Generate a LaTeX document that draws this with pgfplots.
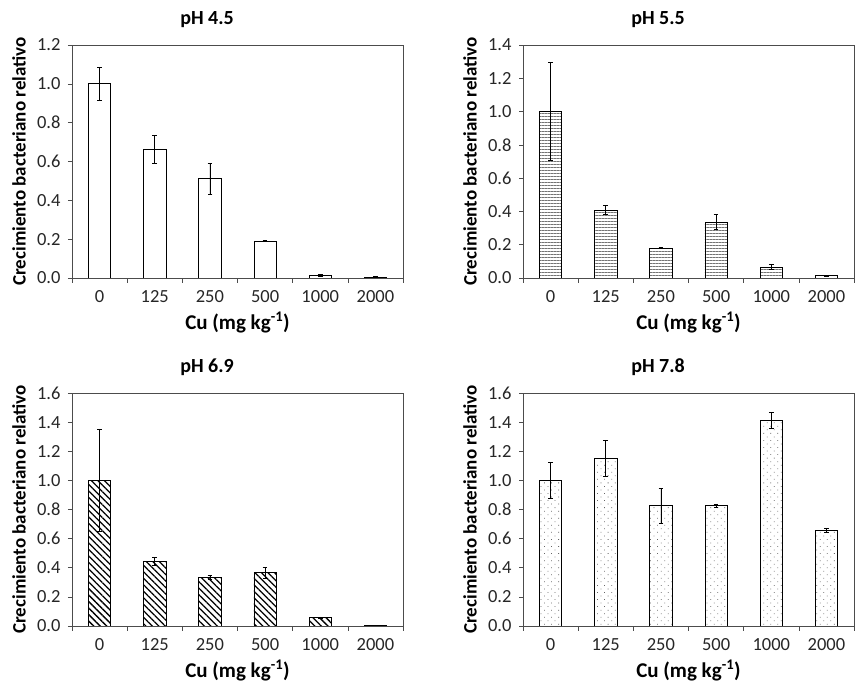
\documentclass[border=0pt]{standalone}
\usepackage{pgfplots}
\pgfplotsset{compat=1.18}
\usepackage{pgfplotstable}
\usetikzlibrary{patterns,patterns.meta}
\usepackage{fontspec}
\setmainfont{Carlito}

\pgfplotstableread{
x y e
0 1.000 0.085
1 0.663 0.070
2 0.511 0.080
3 0.190 0.002
4 0.014 0.003
5 0.005 0.002
}\phA
\pgfplotstableread{
x y e
0 1.000 0.296
1 0.408 0.028
2 0.180 0.002
3 0.336 0.044
4 0.066 0.014
5 0.014 0.003
}\phB
\pgfplotstableread{
x y e
0 1.000 0.353
1 0.442 0.027
2 0.332 0.014
3 0.366 0.037
4 0.057 0.005
5 0.003 0.001
}\phC
\pgfplotstableread{
x y e
0 1.000 0.126
1 1.149 0.124
2 0.826 0.119
3 0.826 0.008
4 1.410 0.055
5 0.657 0.012
}\phD

\pgfplotsset{
  cuplot/.style={
    scale only axis,
    width=331pt, height=233pt,
    anchor=south west,
    xmin=-0.5, xmax=5.5,
    ymin=0,
    xtick={0,...,5},
    xticklabels={0,125,250,500,1000,2000},
    major x tick style={draw=none},
    minor xtick={-0.5,0.5,1.5,2.5,3.5,4.5,5.5},
    minor x tick style={gray!60!black, line width=0.6pt},
    minor tick length=5pt,
    major tick length=4pt,
    y tick style={gray!60!black, line width=0.6pt},
    tick align=outside,
    xtick pos=bottom, ytick pos=left,
    axis line style={gray!60!black, line width=0.7pt},
    /pgf/number format/assume math mode=true,
    /pgf/number format/fixed,
    /pgf/number format/fixed zerofill,
    /pgf/number format/precision=1,
    tick label style={font=\fontsize{18.5}{21}\selectfont, text=black!85},
    xticklabel style={yshift=-5pt},
    yticklabel style={xshift=-4pt},
    xlabel={Cu (mg kg\textsuperscript{-1})},
    ylabel={Crecimiento bacteriano relativo},
    xlabel style={at={(axis description cs:0.5,-0.19)}, anchor=center, font=\fontsize{21}{24}\bfseries\selectfont},
    ylabel style={at={(axis description cs:-0.160,0.5)}, anchor=center, font=\fontsize{19}{22}\bfseries\selectfont},
    title style={at={(axis description cs:0.408,1.085)}, anchor=center, font=\fontsize{20}{23}\bfseries\selectfont},
    ybar, bar width=22.3pt,
    error bars/y dir=both, error bars/y explicit,
    error bars/error bar style={black, line width=0.7pt},
    error bars/error mark options={rotate=90, mark size=2.4pt, line width=0.7pt, black},
  },
  barsty/.style={draw=black, line width=0.8pt},
}

\begin{document}
\begin{tikzpicture}
\path[use as bounding box] (0,0) rectangle (865pt,695pt);

\begin{axis}[cuplot, at={(72pt,417pt)}, ymax=1.2, ytick={0,0.2,...,1.2}, title={pH 4.5}]
\addplot[barsty, fill=white] table[x=x, y=y, y error=e] {\phA};
\end{axis}

\begin{axis}[cuplot, at={(523pt,417pt)}, ymax=1.4, ytick={0,0.2,...,1.4}, title={pH 5.5}]
\addplot[barsty, fill=white, postaction={pattern={Lines[angle=0, distance=3pt, line width=0.45pt]}, pattern color=black!55}] table[x=x, y=y, y error=e] {\phB};
\end{axis}

\begin{axis}[cuplot, at={(72pt,69pt)}, ymax=1.6, ytick={0,0.2,...,1.6}, title={pH 6.9}, title style={at={(axis description cs:0.408,1.083)}}]
\addplot[barsty, fill=white, postaction={pattern={Lines[angle=-45, distance=4.6pt, line width=1.3pt]}, pattern color=black}] table[x=x, y=y, y error=e] {\phC};
\end{axis}

\begin{axis}[cuplot, at={(523pt,69pt)}, ymax=1.6, ytick={0,0.2,...,1.6}, title={pH 7.8}, title style={at={(axis description cs:0.408,1.083)}}]
\addplot[barsty, fill=white, postaction={pattern={Dots[angle=45, distance=5pt, radius=0.55pt]}, pattern color=black!60}] table[x=x, y=y, y error=e] {\phD};
\end{axis}
\end{tikzpicture}
\end{document}
